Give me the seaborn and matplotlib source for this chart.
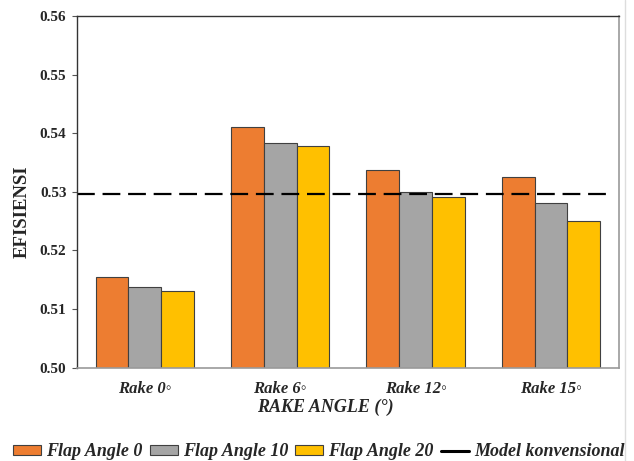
import pandas as pd
import numpy as np
import matplotlib
matplotlib.use("Agg")
import matplotlib.pyplot as plt
import seaborn as sns
from matplotlib.patches import Patch
from matplotlib.lines import Line2D

# Data
kategori = ['Rake 0◦', 'Rake 6◦', 'Rake 12◦', 'Rake 15◦']
flap_0 = [0.5154, 0.5411, 0.5337, 0.5326]
flap_10 = [0.5138, 0.5383, 0.5299, 0.5280]
flap_20 = [0.5130, 0.5378, 0.5291, 0.5250]
model_konvensional = 0.5297
seri = ['Flap Angle 0', 'Flap Angle 10', 'Flap Angle 20']
warna = ['#ED7D31', '#A5A5A5', '#FFC000']
y_ticks = [0.50, 0.51, 0.52, 0.53, 0.54, 0.55, 0.56]

df = pd.DataFrame({
    'rake': kategori * 3,
    'flap': [s for s in seri for _ in kategori],
    'efisiensi': flap_0 + flap_10 + flap_20,
})

sns.set_style('white')
plt.rcParams['font.family'] = ['Liberation Serif', 'DejaVu Sans']

fig = plt.figure(figsize=(6.34, 4.61), dpi=100)
ax = fig.add_axes([0.1215, 0.2028, 0.8544, 0.7625])

sns.barplot(data=df, x='rake', y='efisiensi', hue='flap', order=kategori,
            hue_order=seri, palette=warna, width=0.725, edgecolor='#404040',
            linewidth=0.8, saturation=1, legend=False, ax=ax)

# garis model konvensional
ax.axhline(model_konvensional, color='black', lw=1.6, ls=(0, (8, 3.5)),
           xmax=0.99)

ax.set_ylim(0.50, 0.56)
ax.set_xlim(-0.5, 3.5)
ax.set_yticks(y_ticks)
ax.set_yticklabels([f'{v:.2f}' for v in y_ticks], fontsize=11, fontweight='bold')
ax.tick_params(axis='y', direction='out', length=3.6, width=0.8, left=True,
               pad=4, color='#555555')
ax.set_xticks(range(len(kategori)))
ax.set_xticklabels(kategori, fontsize=12, fontweight='bold', style='italic')
ax.tick_params(axis='x', length=0, pad=10)

ax.set_xlabel('')
ax.set_ylabel('')
fig.text(0.0355, 0.54, 'EFISIENSI', rotation=90, ha='center', va='center',
         fontsize=13.5, fontweight='bold')
fig.text(0.513, 0.117, 'RAKE ANGLE (°)', ha='center', va='center',
         fontsize=13, fontweight='bold', style='italic')

for s in ['left', 'top']:
    ax.spines[s].set_color('#333333')
    ax.spines[s].set_linewidth(1.0)
for s in ['right', 'bottom']:
    ax.spines[s].set_color('#999999')
    ax.spines[s].set_linewidth(1.2)

# garis tepi bingkai di kanan
fig.add_artist(Line2D([0.986, 0.986], [0, 1], transform=fig.transFigure,
                      color='#dddddd', lw=1))

handles = [Patch(facecolor=c, edgecolor='#404040', linewidth=0.8) for c in warna]
handles.append(Line2D([0], [0], color='black', lw=2.2))
fig.legend(handles, seri + ['Model konvensional'], loc='center',
           bbox_to_anchor=(0.503, 0.02), ncol=4, frameon=False,
           prop={'size': 13, 'weight': 'bold', 'style': 'italic'},
           handlelength=1.55, handletextpad=0.28, columnspacing=0.4,
           handleheight=0.5, borderpad=0.2)

fig.savefig('out.png', dpi=100)
